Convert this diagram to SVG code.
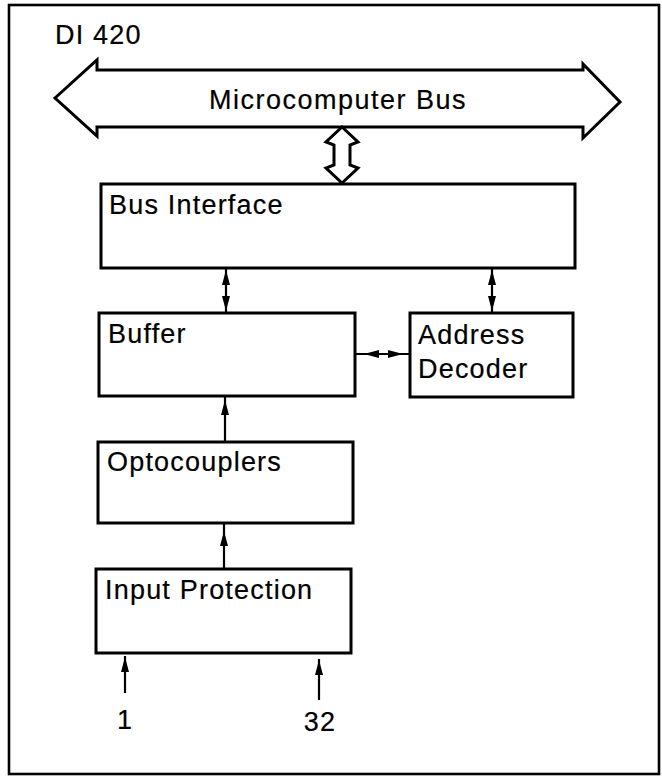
<svg xmlns="http://www.w3.org/2000/svg" xmlns:xlink="http://www.w3.org/1999/xlink" width="662" height="776" viewBox="0 0 662 776">
<style>
.box{fill:#fff;stroke:#000;stroke-width:3}
.ln{stroke:#000;stroke-width:2.2;fill:none}
.hol{fill:#fff;stroke:#000;stroke-width:3;stroke-linejoin:miter}
.t{font-family:"Liberation Sans",Arial,sans-serif;font-size:27px;letter-spacing:1.2px;fill:#000;stroke:#000;stroke-width:0.2}
</style>
<defs>
<path id="ah" d="M0,0 L4,15 L-4,15 Z" fill="#000"/>
</defs>
<rect x="0" y="0" width="662" height="776" fill="#fff"/>
<rect id="frame" x="9" y="5" width="650" height="769" fill="none" stroke="#000" stroke-width="2.6"/>
<text class="t" x="55" y="44">DI 420</text>

<g id="bus">
<polygon class="hol" points="55,98 97,60 97,70 583,70 583,64 620,102 583,138 583,127 97,127 97,136"/>
<text class="t" x="338" y="109" text-anchor="middle" style="letter-spacing:1.5px">Microcomputer Bus</text>
</g>

<g id="bus-interface">
<rect class="box" x="101" y="184" width="474" height="84"/>
<text class="t" x="109" y="214">Bus Interface</text>
</g>

<g id="buffer">
<rect class="box" x="99" y="313" width="256" height="83"/>
<text class="t" x="108" y="343">Buffer</text>
</g>

<g id="address-decoder">
<rect class="box" x="410" y="313" width="163" height="84"/>
<text class="t" x="418" y="344">Address</text>
<text class="t" x="418" y="378">Decoder</text>
</g>

<g id="optocouplers">
<rect class="box" x="98" y="442" width="255" height="81"/>
<text class="t" x="107" y="471">Optocouplers</text>
</g>

<g id="input-protection">
<rect class="box" x="96" y="569" width="255" height="84"/>
<text class="t" x="105" y="599">Input Protection</text>
</g>

<g id="inputs">
<text class="t" x="125" y="729" text-anchor="middle">1</text>
<text class="t" x="320" y="731" text-anchor="middle">32</text>
</g>

<g id="connectors">
<polygon class="hol" points="342,127 358,142 350,145 350,165 358,168 342,183 326,168 334,165 334,145 326,142"/>
<line class="ln" x1="226" y1="268" x2="226" y2="313"/>
<use xlink:href="#ah" transform="translate(226,270)"/>
<use xlink:href="#ah" transform="translate(226,311) rotate(180)"/>
<line class="ln" x1="492" y1="268" x2="492" y2="313"/>
<use xlink:href="#ah" transform="translate(492,270)"/>
<use xlink:href="#ah" transform="translate(492,311) rotate(180)"/>
<line class="ln" x1="355" y1="354" x2="410" y2="354"/>
<use xlink:href="#ah" transform="translate(364,354) rotate(-90)"/>
<use xlink:href="#ah" transform="translate(403,354) rotate(90)"/>
<line class="ln" x1="225" y1="442" x2="225" y2="397"/>
<use xlink:href="#ah" transform="translate(225,400)"/>
<line class="ln" x1="224" y1="569" x2="224" y2="523"/>
<use xlink:href="#ah" transform="translate(224,531)"/>
<line class="ln" x1="125" y1="693" x2="125" y2="656"/>
<use xlink:href="#ah" transform="translate(125,657)"/>
<line class="ln" x1="319" y1="700" x2="319" y2="659"/>
<use xlink:href="#ah" transform="translate(319,660)"/>
</g>
</svg>
